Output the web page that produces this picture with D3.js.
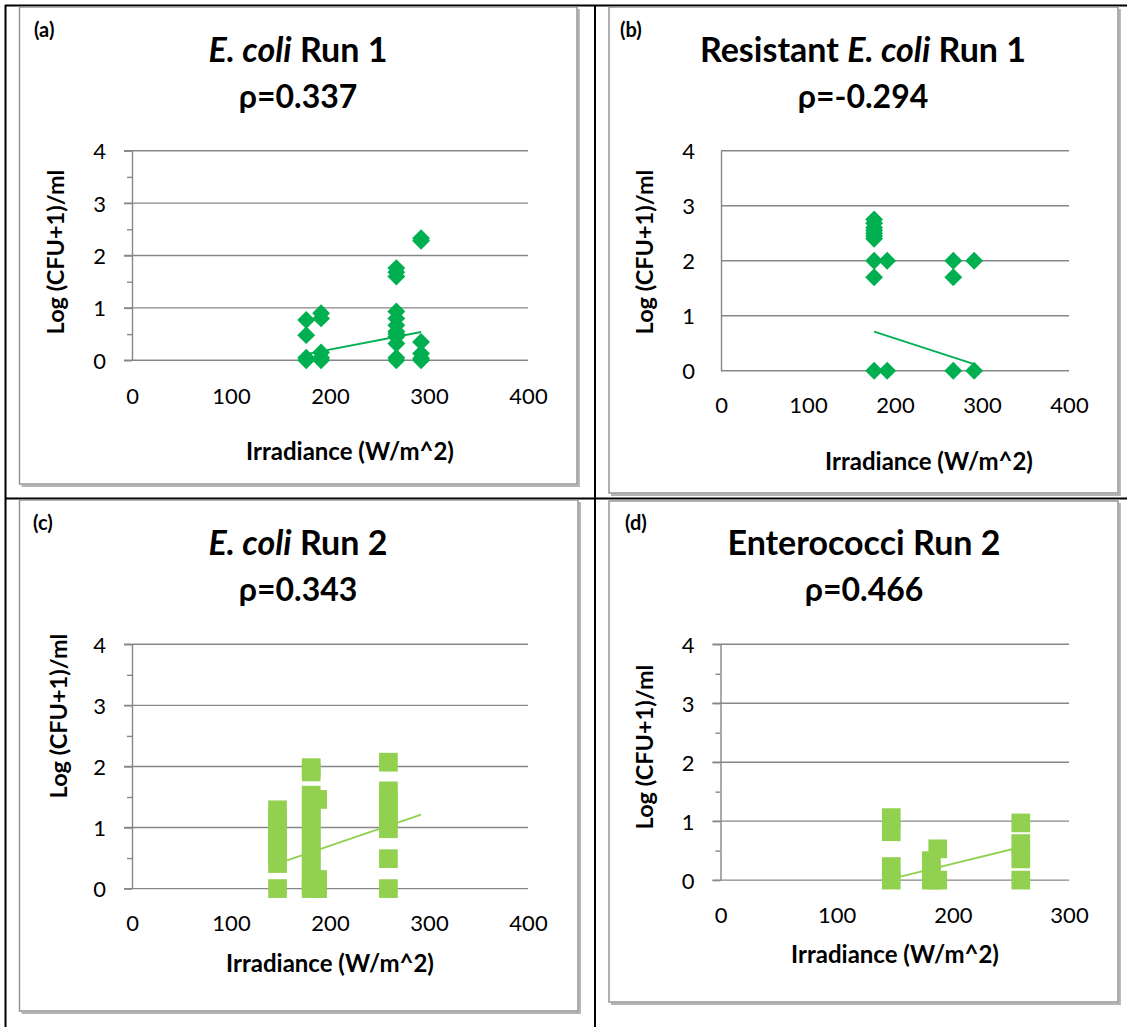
<!DOCTYPE html>
<html>
<head>
<meta charset="utf-8">
<script src="https://cdn.jsdelivr.net/npm/d3@7"></script>
<style>
  body { margin: 0; background: #fff; }
  svg { display: block; }
  text { font-family: Lato, "Open Sans", sans-serif; fill: #000; }
</style>
</head>
<body>
<svg id="chart" width="1127" height="1027"></svg>
<script>
// tick values
var yTicks = [0, 1, 2, 3, 4];
var yMinor = [0.5, 1.5, 2.5, 3.5];
var xTicks400 = [0, 100, 200, 300, 400];
var xTicks300 = [0, 100, 200, 300];

// (a) E. coli Run 1
var ecoli1Irr = [176, 176, 176, 176,
                 191, 191, 191, 191, 191,
                 267, 267, 267, 267, 267, 267, 267, 267, 267, 267, 267, 267,
                 292, 292, 292, 292, 292, 292];
var ecoli1Log = [0.77, 0.48, 0.05, 0,
                 0.9, 0.8, 0.15, 0.05, 0,
                 1.76, 1.68, 1.6, 0.93, 0.8, 0.67, 0.55, 0.5, 0.45, 0.32, 0.05, 0,
                 2.33, 2.28, 0.35, 0.13, 0.04, 0];
var ecoli1Trend = [[176, 0.12], [292, 0.54]];

// (b) Resistant E. coli Run 1
var resist1Irr = [176, 176, 176, 176, 176, 176, 176, 176, 176, 176,
                  191, 191,
                  267, 267, 267,
                  291, 291];
var resist1Log = [2.75, 2.68, 2.6, 2.55, 2.5, 2.45, 2.4, 2.0, 1.7, 0,
                  2.0, 0,
                  2.0, 1.7, 0,
                  2.0, 0];
var resist1Trend = [[176, 0.71], [291, 0.12]];

// (c) E. coli Run 2
var ecoli2Irr = [147, 147, 147, 147, 147, 147, 147, 147,
                 181, 181, 181, 181, 181, 181, 181, 181, 181, 181, 181, 181, 181, 181,
                 187.5, 187.5, 187.5,
                 259, 259, 259, 259, 259, 259, 259, 259];
var ecoli2Log = [1.29, 1.15, 1.0, 0.85, 0.7, 0.55, 0.41, 0,
                 1.98, 1.91, 1.53, 1.38, 1.23, 1.08, 0.93, 0.78, 0.63, 0.48, 0.33, 0.18, 0.05, 0,
                 1.46, 0.15, 0,
                 2.07, 1.6, 1.45, 1.3, 1.15, 0.98, 0.49, 0];
var ecoli2Trend = [[147, 0.41], [292, 1.21]];

// (d) Enterococci Run 2
var entero2Irr = [147, 147, 147, 147,
                  181.5, 181.5, 181.5,
                  187, 187,
                  258.5, 258.5, 258.5, 258.5];
var entero2Log = [1.06, 0.82, 0.23, 0,
                  0.33, 0.17, 0,
                  0.53, 0,
                  0.97, 0.62, 0.36, 0];
var entero2Trend = [[147, 0.02], [258.5, 0.56]];

var darkGreen = '#00b050', lightGreen = '#92d050', gridGray = '#878787';

var svg = d3.select('#chart');

// table lines round the four panels
var black = [[5, 5.5, 1127, 5.5], [5.5, 5, 5.5, 1027], [595, 5, 595, 1027], [5, 498.5, 1127, 498.5]];
svg.selectAll('line.cell').data(black).enter().append('line')
    .attr('class', 'cell')
    .attr('x1', function(d) { return d[0]; }).attr('y1', function(d) { return d[1]; })
    .attr('x2', function(d) { return d[2]; }).attr('y2', function(d) { return d[3]; })
    .style('stroke', '#000').style('stroke-width', 2);

var panels = [
    {letter: '(a)', pre: '', ital: 'E. coli', post: ' Run 1', rho: 'ρ=0.337',
     xs: ecoli1Irr, ys: ecoli1Log, trend: ecoli1Trend, color: darkGreen, shape: 'diamond',
     box: [19.5, 7, 577, 484], left: 132, right: 528, top: 150.7, bottom: 360.3,
     xMax: 400, xt: xTicks400, ticks: true, cx: 298, letterPos: [34, 37],
     titleY: 62, rhoY: 108, xLabelY: 404, xTitle: [350, 460], yTitle: [64, 252]},
    {letter: '(b)', pre: 'Resistant ', ital: 'E. coli', post: ' Run 1', rho: 'ρ=-0.294',
     xs: resist1Irr, ys: resist1Log, trend: resist1Trend, color: darkGreen, shape: 'diamond',
     box: [609, 7, 1118, 493], left: 721, right: 1069, top: 150.7, bottom: 370.7,
     xMax: 400, xt: xTicks400, ticks: false, cx: 863, letterPos: [620, 37],
     titleY: 62, rhoY: 108, xLabelY: 413, xTitle: [929, 470], yTitle: [653, 252]},
    {letter: '(c)', pre: '', ital: 'E. coli', post: ' Run 2', rho: 'ρ=0.343',
     xs: ecoli2Irr, ys: ecoli2Log, trend: ecoli2Trend, color: lightGreen, shape: 'square',
     box: [19.5, 500, 578, 1011], left: 132, right: 528, top: 644.3, bottom: 888.6,
     xMax: 400, xt: xTicks400, ticks: true, cx: 298, letterPos: [33, 530],
     titleY: 555, rhoY: 601, xLabelY: 931, xTitle: [330, 972], yTitle: [67, 716]},
    {letter: '(d)', pre: 'Enterococci Run 2', ital: '', post: '', rho: 'ρ=0.466',
     xs: entero2Irr, ys: entero2Log, trend: entero2Trend, color: lightGreen, shape: 'square',
     box: [609, 501, 1118, 1002], left: 720.5, right: 1069, top: 644.3, bottom: 880.1,
     xMax: 300, xt: xTicks300, ticks: true, cx: 864, letterPos: [625, 530],
     titleY: 555, rhoY: 601, xLabelY: 923.5, xTitle: [895, 963], yTitle: [653, 747]}
];

function drawPanel(p) {
    var g = svg.append('g');
    var b = p.box;

    // chart frame with its soft shadow
    g.append('path')
        .attr('d', 'M' + (b[2] + 1.8) + ',' + (b[1] + 2) + 'V' + (b[3] + 1.8) + 'H' + (b[0] + 2))
        .style('fill', 'none').style('stroke', '#b4b4b4').style('stroke-width', 2.2);
    g.append('rect')
        .attr('x', b[0]).attr('y', b[1])
        .attr('width', b[2] - b[0]).attr('height', b[3] - b[1])
        .style('fill', '#fff').style('stroke', '#8f8f8f').style('stroke-width', 1.4);

    var x = d3.scaleLinear().domain([0, p.xMax]).range([p.left, p.right]);
    var y = d3.scaleLinear().domain([0, 4]).range([p.bottom, p.top]);

    // gridlines
    g.selectAll('line.grid').data(yTicks).enter().append('line')
        .attr('class', 'grid')
        .attr('x1', p.ticks ? p.left - 8 : p.left).attr('x2', p.right)
        .attr('y1', function(d) { return y(d); }).attr('y2', function(d) { return y(d); })
        .style('stroke', gridGray).style('stroke-width', 1.4);

    // y axis
    var yAxis = g.append('g')
        .attr('transform', 'translate(' + p.left + ',0)')
        .call(d3.axisLeft(y).tickValues(yTicks).tickFormat(d3.format('d'))
              .tickSizeInner(p.ticks ? 8 : 0).tickSizeOuter(0).tickPadding(p.ticks ? 18 : 26));
    yAxis.select('.domain').style('stroke', gridGray).style('stroke-width', 1.4);
    yAxis.selectAll('line').style('stroke', gridGray).style('stroke-width', 1.4);
    yAxis.selectAll('text').style('font-size', '22px').attr('dy', '0.36em');

    if (p.ticks) {
        var minor = g.append('g')
            .attr('transform', 'translate(' + p.left + ',0)')
            .call(d3.axisLeft(y).tickValues(yMinor).tickSizeInner(5).tickSizeOuter(0).tickFormat(''));
        minor.select('.domain').remove();
        minor.selectAll('line').style('stroke', gridGray).style('stroke-width', 1.4);
    }

    // x axis labels
    var xAxis = g.append('g')
        .attr('transform', 'translate(0,' + p.bottom + ')')
        .call(d3.axisBottom(x).tickValues(p.xt).tickSize(0));
    xAxis.select('.domain').remove();
    xAxis.selectAll('text').style('font-size', '22px')
        .attr('y', p.xLabelY - p.bottom).attr('dy', 0);

    // points
    var sym = p.shape === 'diamond'
        ? d3.symbol(d3.symbolSquare, 160)
        : d3.symbol(d3.symbolSquare, 350);
    g.selectAll('path.pt').data(d3.zip(p.xs, p.ys)).enter().append('path')
        .attr('class', 'pt')
        .attr('d', sym)
        .attr('transform', function(d) {
            return 'translate(' + x(d[0]) + ',' + y(d[1]) + ')' + (p.shape === 'diamond' ? ' rotate(45)' : '');
        })
        .style('fill', p.color);

    // linear trend line
    g.append('path')
        .datum(p.trend)
        .attr('d', d3.line().x(function(d) { return x(d[0]); }).y(function(d) { return y(d[1]); }))
        .style('fill', 'none').style('stroke', p.color).style('stroke-width', 1.8);

    // texts
    g.append('text').attr('x', p.letterPos[0]).attr('y', p.letterPos[1])
        .style('font-size', '20px').style('font-weight', 'bold').text(p.letter);

    var t = g.append('text').attr('x', p.cx).attr('y', p.titleY)
        .attr('text-anchor', 'middle')
        .style('font-size', '34px').style('font-weight', 'bold');
    if (p.pre) t.append('tspan').text(p.pre);
    if (p.ital) t.append('tspan').style('font-style', 'italic').text(p.ital);
    if (p.post) t.append('tspan').text(p.post);

    g.append('text').attr('x', p.cx).attr('y', p.rhoY)
        .attr('text-anchor', 'middle')
        .style('font-size', '32px').style('font-weight', 'bold').text(p.rho);

    g.append('text').attr('x', p.xTitle[0]).attr('y', p.xTitle[1])
        .attr('text-anchor', 'middle')
        .style('font-size', '24px').style('font-weight', 'bold').text('Irradiance (W/m^2)');

    g.append('text')
        .attr('transform', 'translate(' + p.yTitle[0] + ',' + p.yTitle[1] + ') rotate(-90)')
        .attr('text-anchor', 'middle')
        .style('font-size', '23.5px').style('font-weight', 'bold').text('Log (CFU+1)/ml');
}

panels.forEach(drawPanel);
</script>
</body>
</html>
